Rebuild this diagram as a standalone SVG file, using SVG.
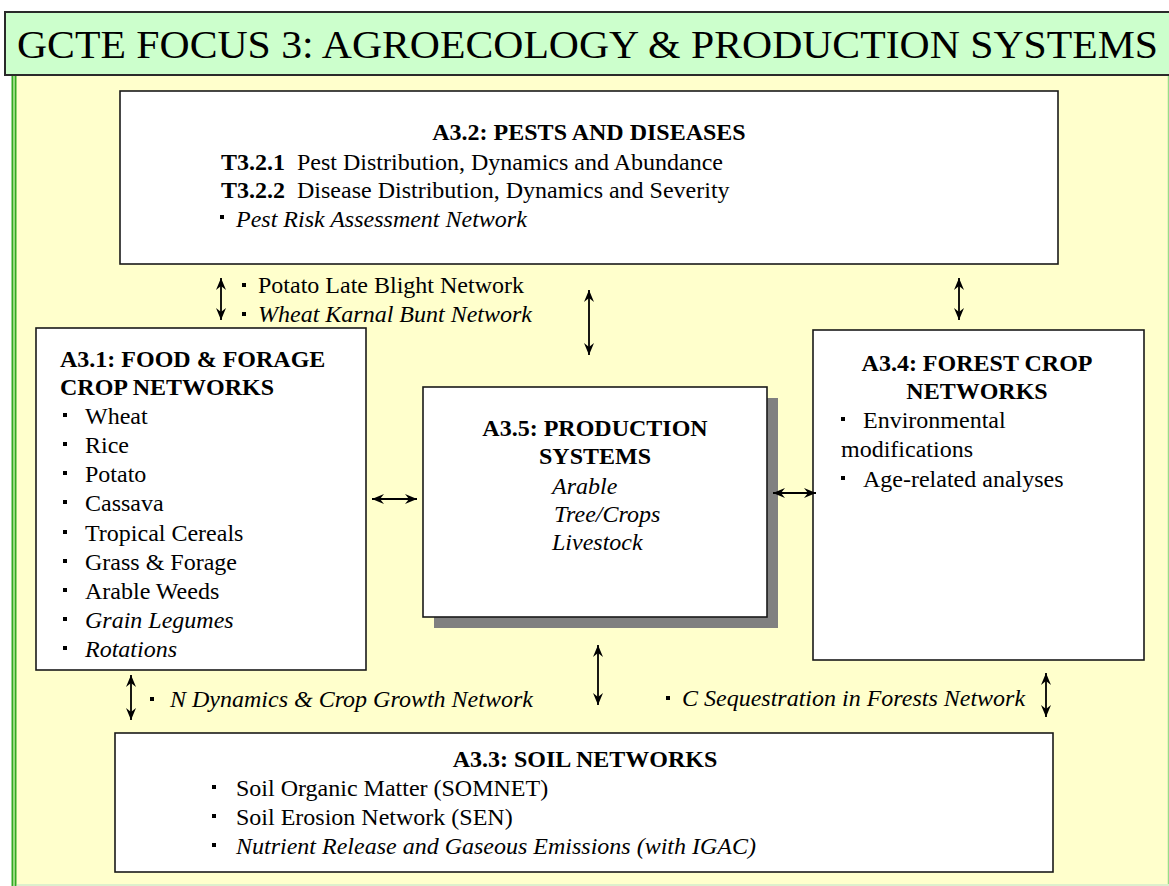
<svg xmlns="http://www.w3.org/2000/svg" width="1169" height="886" viewBox="0 0 1169 886">
  <style>
    text { font-family: 'Liberation Serif', 'DejaVu Serif', serif; fill: #000; }
    .body { font-size: 24px; }
    .b { font-weight: bold; }
    .i { font-style: italic; }
    .box { fill: #fff; stroke: #1a1a1a; stroke-width: 1.6; }
    .bul { fill: #000; }
    .conn { stroke: #000; stroke-width: 1.8; fill: none; marker-start: url(#ah); marker-end: url(#ah); }
  </style>
  <defs>
    <marker id="ah" viewBox="0 0 12 10" refX="12" refY="5" markerWidth="13" markerHeight="10" markerUnits="userSpaceOnUse" orient="auto-start-reverse">
      <path d="M0,0 L12,5 L0,10 L4,5 Z" fill="#000"/>
    </marker>
  </defs>

  <rect x="0" y="0" width="1169" height="886" fill="#fff"/>
  <g id="panel">
    <rect x="12" y="75" width="1157" height="810" fill="#ffffcc"/>
    <line x1="12.5" y1="75" x2="12.5" y2="886" stroke="#33aa22" stroke-width="2"/>
    <line x1="15.5" y1="75" x2="15.5" y2="886" stroke="#33aa22" stroke-width="2"/>
    <line x1="14" y1="75" x2="14" y2="886" stroke="#99dd88" stroke-width="1"/>
    <line x1="1168.5" y1="75" x2="1168.5" y2="886" stroke="#99dd88" stroke-width="1.5"/>
    <line x1="17" y1="885" x2="1169" y2="885" stroke="#ddf0cc" stroke-width="2"/>
  </g>

  <g id="title">
    <rect x="5" y="12" width="1170" height="63" fill="#ccffcc" stroke="#2a2a2a" stroke-width="2"/>
    <text x="17" y="58" font-size="41" textLength="1141" lengthAdjust="spacingAndGlyphs">GCTE FOCUS 3: AGROECOLOGY &amp; PRODUCTION SYSTEMS</text>
  </g>

  <g id="a32">
    <rect class="box" x="120" y="91" width="938" height="173"/>
    <text class="body b" x="589" y="140" text-anchor="middle">A3.2: PESTS AND DISEASES</text>
    <text class="body" x="221" y="170" xml:space="preserve"><tspan class="b">T3.2.1</tspan>  Pest Distribution, Dynamics and Abundance</text>
    <text class="body" x="221" y="198" xml:space="preserve"><tspan class="b">T3.2.2</tspan>  Disease Distribution, Dynamics and Severity</text>
    <rect class="bul" x="220" y="215" width="4" height="4"/>
    <text class="body i" x="236" y="227">Pest Risk Assessment Network</text>
  </g>

  <g id="a31">
    <rect class="box" x="36" y="328" width="330" height="342"/>
    <text class="body b" x="60" y="367">A3.1: FOOD &amp; FORAGE</text>
    <text class="body b" x="60" y="395">CROP NETWORKS</text>
    <rect class="bul" x="63" y="413" width="4" height="4"/>
    <text class="body" x="85" y="424">Wheat</text>
    <rect class="bul" x="63" y="442" width="4" height="4"/>
    <text class="body" x="85" y="453">Rice</text>
    <rect class="bul" x="63" y="471" width="4" height="4"/>
    <text class="body" x="85" y="482">Potato</text>
    <rect class="bul" x="63" y="500" width="4" height="4"/>
    <text class="body" x="85" y="511">Cassava</text>
    <rect class="bul" x="63" y="530" width="4" height="4"/>
    <text class="body" x="85" y="541">Tropical Cereals</text>
    <rect class="bul" x="63" y="559" width="4" height="4"/>
    <text class="body" x="85" y="570">Grass &amp; Forage</text>
    <rect class="bul" x="63" y="588" width="4" height="4"/>
    <text class="body" x="85" y="599">Arable Weeds</text>
    <rect class="bul" x="63" y="617" width="4" height="4"/>
    <text class="body i" x="85" y="628">Grain Legumes</text>
    <rect class="bul" x="63" y="646" width="4" height="4"/>
    <text class="body i" x="85" y="657">Rotations</text>
  </g>

  <g id="a35">
    <rect x="434" y="398" width="344" height="230" fill="#808080"/>
    <rect class="box" x="423" y="387" width="344" height="230"/>
    <text class="body b" x="595" y="436" text-anchor="middle">A3.5: PRODUCTION</text>
    <text class="body b" x="595" y="464" text-anchor="middle">SYSTEMS</text>
    <text class="body i" x="552" y="494">Arable</text>
    <text class="body i" x="554" y="522">Tree/Crops</text>
    <text class="body i" x="552" y="550">Livestock</text>
  </g>

  <g id="a34">
    <rect class="box" x="813" y="330" width="331" height="330"/>
    <text class="body b" x="977" y="371" text-anchor="middle">A3.4: FOREST CROP</text>
    <text class="body b" x="977" y="399" text-anchor="middle">NETWORKS</text>
    <rect class="bul" x="841" y="417" width="4" height="4"/>
    <text class="body" x="863" y="428">Environmental</text>
    <text class="body" x="841" y="457">modifications</text>
    <rect class="bul" x="841" y="476" width="4" height="4"/>
    <text class="body" x="863" y="487">Age-related analyses</text>
  </g>

  <g id="a33">
    <rect class="box" x="115" y="733" width="938" height="139"/>
    <text class="body b" x="585" y="767" text-anchor="middle">A3.3: SOIL NETWORKS</text>
    <rect class="bul" x="212" y="785" width="4" height="4"/>
    <text class="body" x="236" y="796">Soil Organic Matter (SOMNET)</text>
    <rect class="bul" x="212" y="814" width="4" height="4"/>
    <text class="body" x="236" y="825">Soil Erosion Network (SEN)</text>
    <rect class="bul" x="212" y="843" width="4" height="4"/>
    <text class="body i" x="236" y="854">Nutrient Release and Gaseous Emissions (with IGAC)</text>
  </g>

  <g id="labels">
    <rect class="bul" x="242" y="283" width="4" height="4"/>
    <text class="body" x="258" y="293">Potato Late Blight Network</text>
    <rect class="bul" x="242" y="312" width="4" height="4"/>
    <text class="body i" x="258" y="322">Wheat Karnal Bunt Network</text>
    <rect class="bul" x="150" y="697" width="4" height="4"/>
    <text class="body i" x="170" y="707">N Dynamics &amp; Crop Growth Network</text>
    <rect class="bul" x="666" y="696" width="4" height="4"/>
    <text class="body i" x="682" y="706">C Sequestration in Forests Network</text>
  </g>

  <g id="connectors">
    <line class="conn" x1="221" y1="278" x2="221" y2="320"/>
    <line class="conn" x1="589" y1="290" x2="589" y2="355"/>
    <line class="conn" x1="959" y1="278" x2="959" y2="320"/>
    <line class="conn" x1="372" y1="499" x2="417" y2="499"/>
    <line class="conn" x1="773" y1="493" x2="816" y2="493"/>
    <line class="conn" x1="131" y1="675" x2="131" y2="720"/>
    <line class="conn" x1="598" y1="645" x2="598" y2="705"/>
    <line class="conn" x1="1046" y1="673" x2="1046" y2="717"/>
  </g>
</svg>
